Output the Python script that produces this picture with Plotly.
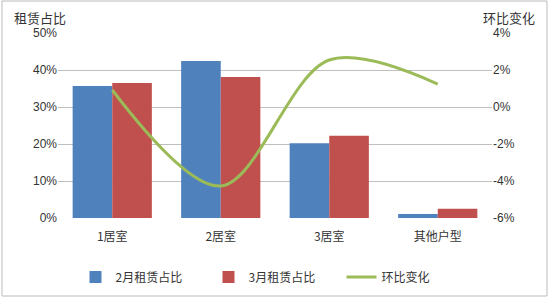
import plotly.graph_objects as go

categories = ["1居室", "2居室", "3居室", "其他户型"]
feb_share = [0.357, 0.424, 0.202, 0.011]
mar_share = [0.365, 0.381, 0.222, 0.025]
mom_change = [0.92, -4.27, 2.54, 1.24]

left_ticks = [0, 0.1, 0.2, 0.3, 0.4, 0.5]
left_labels = ["0%", "10%", "20%", "30%", "40%", "50%"]
right_ticks = [-6, -4, -2, 0, 2, 4]
right_labels = ["-6%", "-4%", "-2%", "0%", "2%", "4%"]

FONT = "Noto Sans CJK SC"

fig = go.Figure()
fig.add_trace(go.Bar(x=categories, y=feb_share, name="2月租赁占比",
                     marker=dict(color="#4F81BD", line=dict(width=0))))
fig.add_trace(go.Bar(x=categories, y=mar_share, name="3月租赁占比",
                     marker=dict(color="#C0504D", line=dict(width=0))))
fig.add_trace(go.Scatter(x=categories, y=mom_change, name="环比变化", yaxis="y2",
                         mode="lines", line=dict(color="#9BBB59", width=3, shape="spline", smoothing=0.95)))

L, R, T, B = 58, 58, 33, 80
W, H = 550, 298
pw, ph = W - L - R, H - T - B

def px(x):
    return (x - L) / pw

def py(y):
    return (H - B - y) / ph

fig.update_layout(
    width=W, height=H,
    margin=dict(l=L, r=R, t=T, b=B, autoexpand=False),
    paper_bgcolor="white", plot_bgcolor="white",
    font=dict(family=FONT, size=12, color="#333333"),
    barmode="group", bargap=0.27, bargroupgap=0,
    showlegend=True,
    legend=dict(orientation="h", xref="container", yref="container",
                x=0.5, xanchor="center", y=1 - 277 / H, yanchor="middle",
                font=dict(family=FONT, size=12, color="#333333"), itemwidth=30,
                entrywidthmode="pixels", entrywidth=88),
    xaxis=dict(showgrid=False, showline=False, ticks="", tickfont=dict(size=12),
               ticklabelstandoff=10, automargin=False),
    yaxis=dict(range=[0, 0.5], tickvals=left_ticks, ticktext=left_labels,
               showgrid=True, gridcolor="#BFBFBF", gridwidth=1, zeroline=False,
               showline=False, ticks="", automargin=False,
               tickfont=dict(size=12, family="Liberation Sans")),
    yaxis2=dict(range=[-6, 4], tickvals=right_ticks, ticktext=right_labels, overlaying="y",
                side="right", showgrid=False, zeroline=False, showline=False, ticks="",
                automargin=False, tickfont=dict(size=12, family="Liberation Sans")),
    annotations=[
        dict(text="租赁占比", xref="paper", yref="paper", x=px(12), y=py(17),
             xanchor="left", yanchor="middle", showarrow=False,
             font=dict(family=FONT, size=13, color="#333333")),
        dict(text="环比变化", xref="paper", yref="paper", x=px(537), y=py(17),
             xanchor="right", yanchor="middle", showarrow=False,
             font=dict(family=FONT, size=13, color="#333333")),
    ],
    shapes=[
        dict(type="rect", xref="paper", yref="paper", x0=px(2), x1=px(547), y0=py(296), y1=py(1),
             line=dict(color="#BBBBBB", width=1), fillcolor="rgba(0,0,0,0)", layer="below"),
    ],
)

fig.write_html("out.html")
